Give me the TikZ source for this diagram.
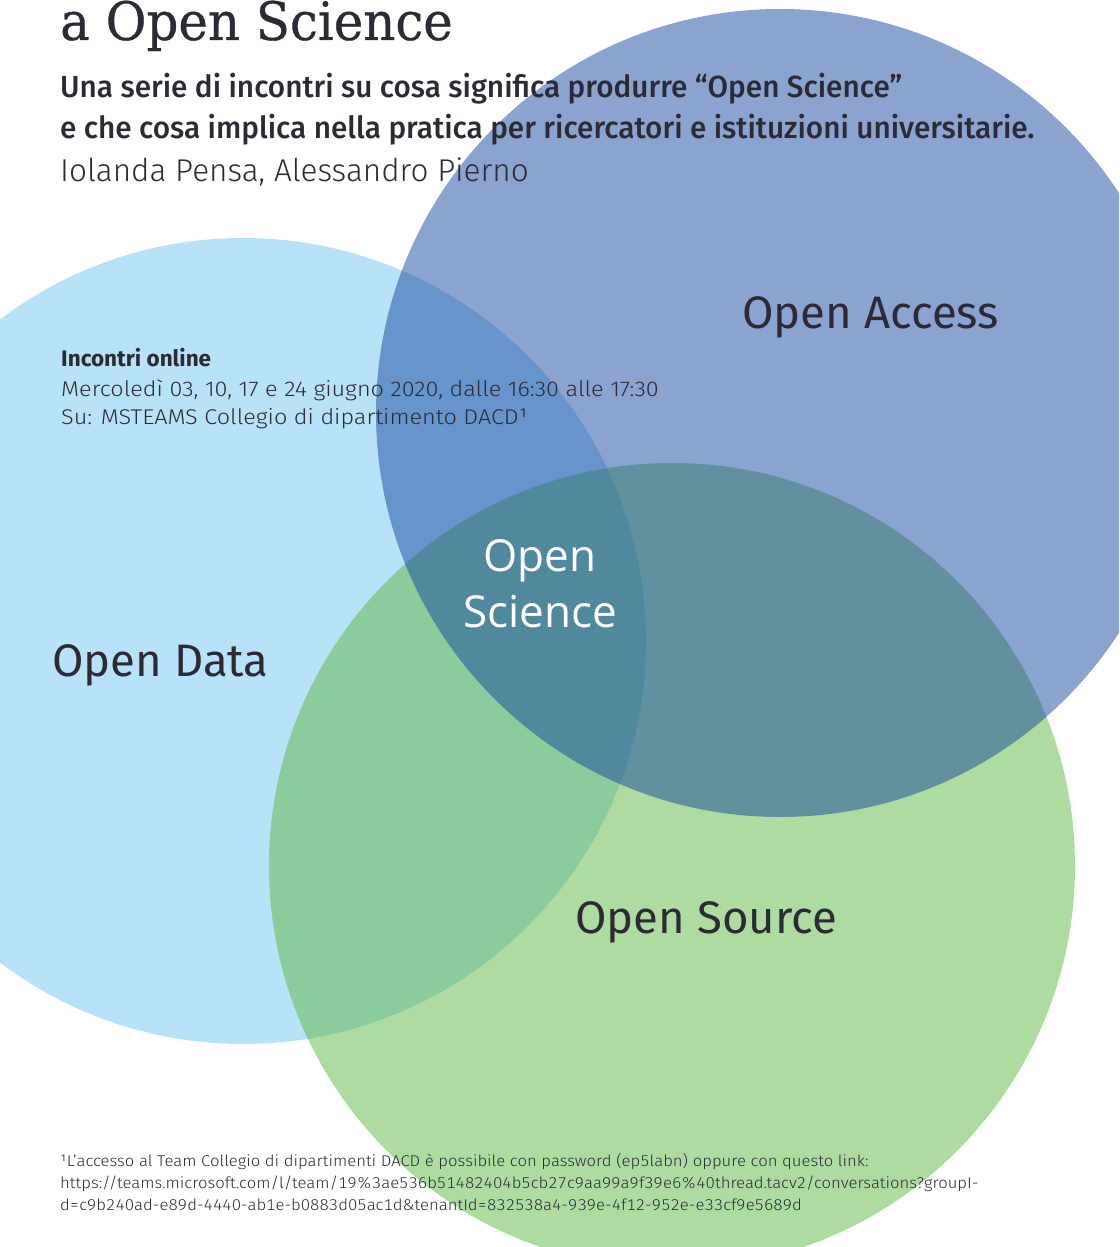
\documentclass[tikz,border=0pt]{standalone}
\usepackage{fontspec}
\setmainfont{Fira Sans}
\newfontfamily\titlefont[FakeStretch=0.94,FakeBold=0.6]{DejaVu Serif}
\newfontfamily\lightfont[FakeStretch=1.1]{Fira Sans Light}
\newfontfamily\authorfont{Fira Sans Light}
\newfontfamily\notefont[FakeStretch=1.07,Numbers=Monospaced]{Fira Sans Light}
\newfontfamily\subfont[FakeStretch=0.975]{Fira Sans Medium}
\newfontfamily\centrefont{Open Sans}
\usetikzlibrary{positioning}
\definecolor{datablue}{RGB}{184,226,248}
\definecolor{accessblue}{RGB}{23,71,159}
\definecolor{sourcegreen}{RGB}{93,183,65}
\definecolor{ink}{RGB}{43,42,53}
\tikzset{venn/.style={circle,minimum size=806pt,inner sep=0pt,draw=none}}
\tikzset{textline/.style={text=ink,anchor=base west,inner sep=0pt}}
\tikzset{field/.style={textline,font=\fontsize{45.5}{45}\selectfont}}
\tikzset{dates/.style={textline,font=\lightfont\fontsize{21.3}{21}\selectfont}}
\tikzset{note/.style={textline,font=\notefont\fontsize{15.6}{16}\selectfont}}

\begin{document}
\begin{tikzpicture}[x=1pt,y=-1pt]
        \useasboundingbox (0,0) rectangle (1119,1247);
        \clip (0,0) rectangle (1119,1247);
        % the three circles
        \node(data)[venn,fill=datablue] at (243,641){};
        \node(source)[venn,fill=sourcegreen,fill opacity=.5] at (672,866){};
        \node(access)[venn,fill=accessblue,fill opacity=.5,minimum size=808pt] at (780,413){};
        % heading
        \node(title)[textline,font=\titlefont\fontsize{53}{53}\selectfont] at (60,40){a Open Science};
        \node(sub1)[textline,font=\subfont\fontsize{30.5}{30}\selectfont] at (60,97){Una serie di incontri su cosa significa produrre “Open Science”};
        \node(sub2)[textline,font=\subfont\fontsize{30.5}{30}\selectfont] at (60,138){e che cosa implica nella pratica per ricercatori e istituzioni universitarie.};
        \node(authors)[textline,font=\authorfont\fontsize{31.5}{31}\selectfont] at (60,181){Iolanda Pensa, Alessandro Pierno};
        % dates
        \node(online)[dates,font=\bfseries\fontsize{22.5}{22}\selectfont] at (61,366){Incontri online};
        \node(when)[dates] at (61,396){Mercoledì 03, 10, 17 e 24 giugno 2020, dalle 16:30 alle 17:30};
        \node(where)[dates] at (61,424){Su: MSTEAMS Collegio di dipartimento DACD¹};
        % circle labels
        \node(opendata)[field] at (52,676){Open Data};
        \node(openaccess)[field] at (742,328){Open Access};
        \node(opensource)[field] at (575,933){Open Source};
        \node(openscience)[text=white,align=center,inner sep=0pt,font=\centrefont\fontsize{44}{56}\selectfont] at (540,584){Open\\Science};
        % footnote
        \node(note1)[note] at (60,1166){¹L’accesso al Team Collegio di dipartimenti DACD è possibile con password (ep5labn) oppure con questo link:};
        \node(note2)[note] at (60,1188){https://teams.microsoft.com/l/team/19\%3ae536b51482404b5cb27c9aa99a9f39e6\%40thread.tacv2/conversations?groupI-};
        \node(note3)[note] at (60,1210){d=c9b240ad-e89d-4440-ab1e-b0883d05ac1d\&tenantId=832538a4-939e-4f12-952e-e33cf9e5689d};
\end{tikzpicture}
\end{document}
